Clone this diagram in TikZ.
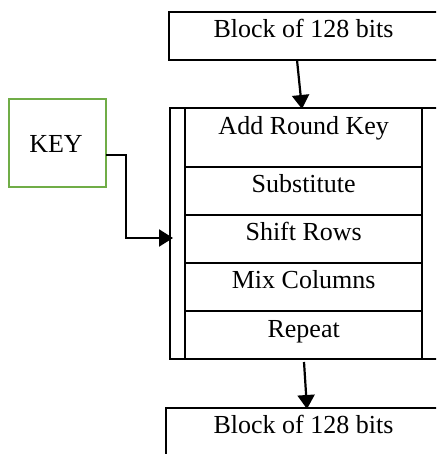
\documentclass[tikz,border=0pt]{standalone}
\usepackage{fontspec}
\setmainfont{Liberation Serif}
\usetikzlibrary{arrows.meta,calc}
\begin{document}
\begin{tikzpicture}[x=1pt,y=-1pt,
  frame/.style={draw=black,line width=2.2pt,inner sep=0pt,outer sep=0pt},
  keybox/.style={draw={rgb,255:red,112;green,173;blue,71},line width=2.2pt,inner sep=0pt,outer sep=0pt},
  lbl/.style={font=\fontsize{26}{30}\selectfont,inner sep=0pt,anchor=base},
  flow/.style={line width=2.2pt,-{Triangle[length=14pt,width=17pt]}}]
\useasboundingbox (0,0) rectangle (436,454);
\clip (0,0) rectangle (436,454);

% input block
\node[frame,anchor=north west,minimum width=290pt,minimum height=48pt] (inblk) at (169,12) {};
\node[lbl] (intext) at (303.5,38) {Block of 128 bits};

% outer frame of the round
\node[frame,anchor=north west,minimum width=290pt,minimum height=251pt] (round) at (170,108) {};

% the round steps
\node[frame,anchor=north west,minimum width=237pt,minimum height=59pt] (s1) at (185,108) {};
\node[frame,anchor=north west,minimum width=237pt,minimum height=48pt] (s2) at (185,167) {};
\node[frame,anchor=north west,minimum width=237pt,minimum height=48pt] (s3) at (185,215) {};
\node[frame,anchor=north west,minimum width=237pt,minimum height=48pt] (s4) at (185,263) {};
\node[frame,anchor=north west,minimum width=237pt,minimum height=48pt] (s5) at (185,311) {};
\node[lbl] (t1) at (303.7,135) {Add Round Key};
\node[lbl] (t2) at (303.7,193) {Substitute};
\node[lbl] (t3) at (303.7,240.5) {Shift Rows};
\node[lbl] (t4) at (303.7,288.5) {Mix Columns};
\node[lbl] (t5) at (303.7,337) {Repeat};

% output block
\node[frame,anchor=north west,minimum width=290pt,minimum height=80pt] (outblk) at (166,408) {};
\node[lbl] (outtext) at (303.5,433) {Block of 128 bits};

% key
\node[keybox,anchor=north west,minimum width=97pt,minimum height=88pt] (key) at (9,99) {};
\node[lbl] (keytext) at (56,153) {KEY};

% connectors
\coordinate (a0) at (297,60);
\coordinate (a1) at (302,109);
\draw[flow] (a0) -- (a1);
\coordinate (b0) at (304,362);
\coordinate (b1) at (307,409);
\draw[flow] (b0) -- (b1);
\coordinate (k1) at (173,238);
\draw[flow] (key.east |- 0,155) -- (126,155) -- (126,238) -- (k1);
\end{tikzpicture}
\end{document}
